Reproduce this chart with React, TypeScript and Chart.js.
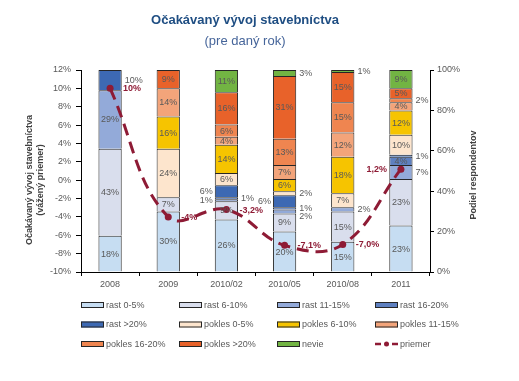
import React, { useEffect, useRef } from 'react';
import { Chart, registerables } from 'chart.js';

Chart.register(...registerables);

const FONT = "'Liberation Sans', Arial, sans-serif";
const GREY = '#595959';
const RED = '#8E1B35';

// ---- data ----
const categories = ['2008', '2009', '2010/02', '2010/05', '2010/08', '2011'];

const seriesNames = [
  'rast 0-5%', 'rast 6-10%', 'rast 11-15%', 'rast 16-20%',
  'rast >20%', 'pokles 0-5%', 'pokles 6-10%', 'pokles 11-15%',
  'pokles 16-20%', 'pokles >20%', 'nevie',
];
const rast0_5 = [18, 30, 26, 20, 15, 23];
const rast6_10 = [43, 7, 9, 9, 15, 23];
const rast11_15 = [29, 0, 1, 2, 2, 7];
const rast16_20 = [0, 0, 1, 1, 0, 4];
const rastOver20 = [10, 0, 6, 6, 0, 1];
const pokles0_5 = [0, 24, 6, 2, 7, 10];
const pokles6_10 = [0, 16, 14, 6, 18, 12];
const pokles11_15 = [0, 14, 4, 7, 12, 4];
const pokles16_20 = [0, 0, 6, 13, 15, 2];
const poklesOver20 = [0, 9, 16, 31, 15, 5];
const nevie = [0, 0, 11, 3, 1, 9];

const priemerName = 'priemer';
const priemer = [10, -4, -3.2, -7.1, -7.0, 1.2];
const priemerLabels = ['10%', '-4%', '-3,2%', '-7,1%', '-7,0%', '1,2%'];

const leftMin = -10, leftMax = 12, leftStep = 2;
const rightMin = 0, rightMax = 100, rightStep = 20;

const seriesValues = [
  rast0_5, rast6_10, rast11_15, rast16_20, rastOver20,
  pokles0_5, pokles6_10, pokles11_15, pokles16_20, poklesOver20, nevie,
];

// ---- styles ----
const seriesColors = [
  '#C6DDF2', '#D9DEED', '#93AAD9', '#5E80C0', '#3D69B3',
  '#FDE5CD', '#F6C400', '#F3A47A', '#EF8550', '#E8622A', '#72B443',
];

// labels drawn outside the bar: [series, category, side]
const outsideLabels: Array<[string, string, 'left' | 'right']> = [
  ['rast >20%', '2008', 'right'],
  ['rast 11-15%', '2010/02', 'left'],
  ['rast 16-20%', '2010/02', 'right'],
  ['rast >20%', '2010/02', 'left'],
  ['rast 11-15%', '2010/05', 'right'],
  ['rast 16-20%', '2010/05', 'right'],
  ['rast >20%', '2010/05', 'left'],
  ['pokles 0-5%', '2010/05', 'right'],
  ['nevie', '2010/05', 'right'],
  ['rast 11-15%', '2010/08', 'right'],
  ['nevie', '2010/08', 'right'],
  ['rast 11-15%', '2011', 'right'],
  ['rast >20%', '2011', 'right'],
  ['pokles 16-20%', '2011', 'right'],
];
const priemerLabelSide: Array<'left' | 'right'> = ['right', 'right', 'right', 'right', 'right', 'left'];

const sideOf = (si: number, ci: number) => {
  const f = outsideLabels.find(o => o[0] === seriesNames[si] && o[1] === categories[ci]);
  return f ? f[2] : 'in';
};

const decorPlugin = {
  id: 'decor',
  afterDatasetsDraw(chart: any) {
    const ctx = chart.ctx as CanvasRenderingContext2D;
    ctx.save();
    ctx.textBaseline = 'middle';
    // segment labels
    ctx.font = `9px ${FONT}`;
    ctx.fillStyle = GREY;
    categories.forEach((_, ci) => {
      const sides: Record<string, Array<{ x: number; y: number; t: string }>> = { left: [], right: [] };
      seriesValues.forEach((vals, si) => {
        const v = vals[ci];
        if (!v) return;
        const el = chart.getDatasetMeta(si).data[ci];
        if (!el) return;
        const p = el.getProps(['x', 'y', 'base', 'width'], true);
        const cy = (p.y + p.base) / 2;
        const side = sideOf(si, ci);
        const t = `${v}%`;
        if (side === 'in') {
          ctx.textAlign = 'center';
          ctx.fillText(t, p.x, cy + 0.5);
        } else if (side === 'left') {
          sides.left.push({ x: p.x - p.width / 2 - 2, y: cy, t });
        } else {
          sides.right.push({ x: p.x + p.width / 2 + 3, y: cy, t });
        }
      });
      (['left', 'right'] as const).forEach(s => {
        const arr = sides[s].sort((a, b) => a.y - b.y);
        for (let i = 1; i < arr.length; i++) {
          if (arr[i].y - arr[i - 1].y < 8) arr[i].y = arr[i - 1].y + 8;
        }
        ctx.textAlign = s === 'left' ? 'right' : 'left';
        arr.forEach(a => ctx.fillText(a.t, a.x, a.y + 0.5));
      });
    });
    // line labels
    const lineMeta = chart.getDatasetMeta(seriesValues.length);
    ctx.font = `bold 9px ${FONT}`;
    ctx.fillStyle = RED;
    lineMeta.data.forEach((pt: any, i: number) => {
      const side = priemerLabelSide[i];
      ctx.textAlign = side === 'left' ? 'right' : 'left';
      ctx.fillText(priemerLabels[i], pt.x + (side === 'left' ? -14 : 13), pt.y + 0.5);
    });
    ctx.restore();
  },
  afterDraw(chart: any) {
    const ctx = chart.ctx as CanvasRenderingContext2D;
    const area = chart.chartArea;
    ctx.save();
    ctx.textBaseline = 'middle';
    ctx.textAlign = 'center';
    // title
    ctx.font = `bold 13px ${FONT}`;
    ctx.fillStyle = '#1F4E83';
    ctx.fillText('Očakávaný vývoj stavebníctva', 245, 20);
    ctx.font = `13px ${FONT}`;
    ctx.fillStyle = '#46659A';
    ctx.fillText('(pre daný rok)', 245, 41);
    // axis titles
    ctx.font = `bold 9px ${FONT}`;
    ctx.fillStyle = '#404040';
    ctx.save();
    ctx.translate(30, 180);
    ctx.rotate(-Math.PI / 2);
    ctx.fillText('Očakávaný vývoj stavebníctva', 0, 0);
    ctx.fillText('(vážený priemer)', 0, 11);
    ctx.restore();
    ctx.save();
    ctx.translate(area.right + 44, 175);
    ctx.rotate(-Math.PI / 2);
    ctx.fillText('Podiel respondentov', 0, 0);
    ctx.restore();
    // legend
    ctx.font = `9px ${FONT}`;
    ctx.textAlign = 'left';
    const ds = chart.data.datasets;
    ds.forEach((d: any, i: number) => {
      const col = i % 4, row = Math.floor(i / 4);
      const x = 81 + col * 98;
      const y = 305 + row * 19.5;
      if (d.type === 'line') {
        ctx.strokeStyle = RED;
        ctx.lineWidth = 2.5;
        ctx.beginPath();
        ctx.moveTo(x, y); ctx.lineTo(x + 6, y);
        ctx.moveTo(x + 17, y); ctx.lineTo(x + 23, y);
        ctx.stroke();
        ctx.fillStyle = RED;
        ctx.beginPath();
        ctx.arc(x + 11.5, y, 2.5, 0, Math.PI * 2);
        ctx.fill();
      } else {
        ctx.fillStyle = d.backgroundColor;
        ctx.fillRect(x, y - 3, 23, 6);
        ctx.strokeStyle = '#262626';
        ctx.lineWidth = 1;
        ctx.strokeRect(x + 0.5, y - 2.5, 22, 5);
      }
      ctx.fillStyle = GREY;
      ctx.fillText(d.label, x + 25, y + 0.5);
    });
    ctx.restore();
  },
};

export default function App() {
  const ref = useRef<HTMLCanvasElement>(null);
  useEffect(() => {
    if (!ref.current) return;
    Chart.defaults.font.family = FONT;
    const tickFont = { size: 9, family: FONT };
    const datasets: any[] = seriesValues.map((vals, i) => ({
      type: 'bar',
      label: seriesNames[i],
      data: vals.map(v => (v ? v : null)),
      backgroundColor: seriesColors[i],
      borderColor: '#262626',
      borderWidth: 1,
      borderSkipped: 'bottom',
      yAxisID: 'y1',
      stack: 'a',
      order: 1,
      barPercentage: 0.4,
      categoryPercentage: 1,
    }));
    datasets.push({
      type: 'line',
      label: priemerName,
      data: priemer,
      yAxisID: 'y',
      borderColor: RED,
      backgroundColor: RED,
      borderWidth: 3,
      borderDash: [12, 7],
      pointRadius: 3.5,
      pointBackgroundColor: RED,
      pointBorderWidth: 0,
      tension: 0.4,
      order: 0,
    });
    const chart = new Chart(ref.current, {
      type: 'bar',
      data: { labels: categories, datasets },
      options: {
        responsive: false,
        animation: false,
        layout: { padding: { top: 70, bottom: 89, left: 0, right: 0 } },
        plugins: { legend: { display: false }, tooltip: { enabled: false }, title: { display: false } },
        scales: {
          x: {
            stacked: true,
            offset: true,
            grid: { offset: true, drawOnChartArea: false, drawTicks: true, tickLength: 4, color: '#000' },
            border: { color: '#000', width: 1 },
            ticks: { color: GREY, font: tickFont, padding: 3, maxRotation: 0 },
            afterFit: (s: any) => { s.height = 20; },
          },
          y: {
            position: 'left',
            min: leftMin,
            max: leftMax,
            ticks: { stepSize: leftStep, callback: (v: any) => `${v}%`, color: GREY, font: tickFont, padding: 5 },
            grid: { drawOnChartArea: false, tickLength: 5, color: '#000' },
            border: { color: '#000', width: 1 },
            afterFit: (s: any) => { s.width = 81; },
          },
          y1: {
            position: 'right',
            stacked: true,
            min: rightMin,
            max: rightMax,
            ticks: { stepSize: rightStep, callback: (v: any) => `${v}%`, color: GREY, font: tickFont, padding: 3 },
            grid: { drawOnChartArea: false, tickLength: 4, color: '#000' },
            border: { color: '#000', width: 1 },
            afterFit: (s: any) => { s.width = 89; },
          },
        },
      } as any,
      plugins: [decorPlugin],
    });
    return () => chart.destroy();
  }, []);
  return (
    <div style={{ position: 'fixed', left: 0, top: 0, width: 519, height: 381, background: '#fff' }}>
      <canvas ref={ref} width={519} height={381} />
    </div>
  );
}
